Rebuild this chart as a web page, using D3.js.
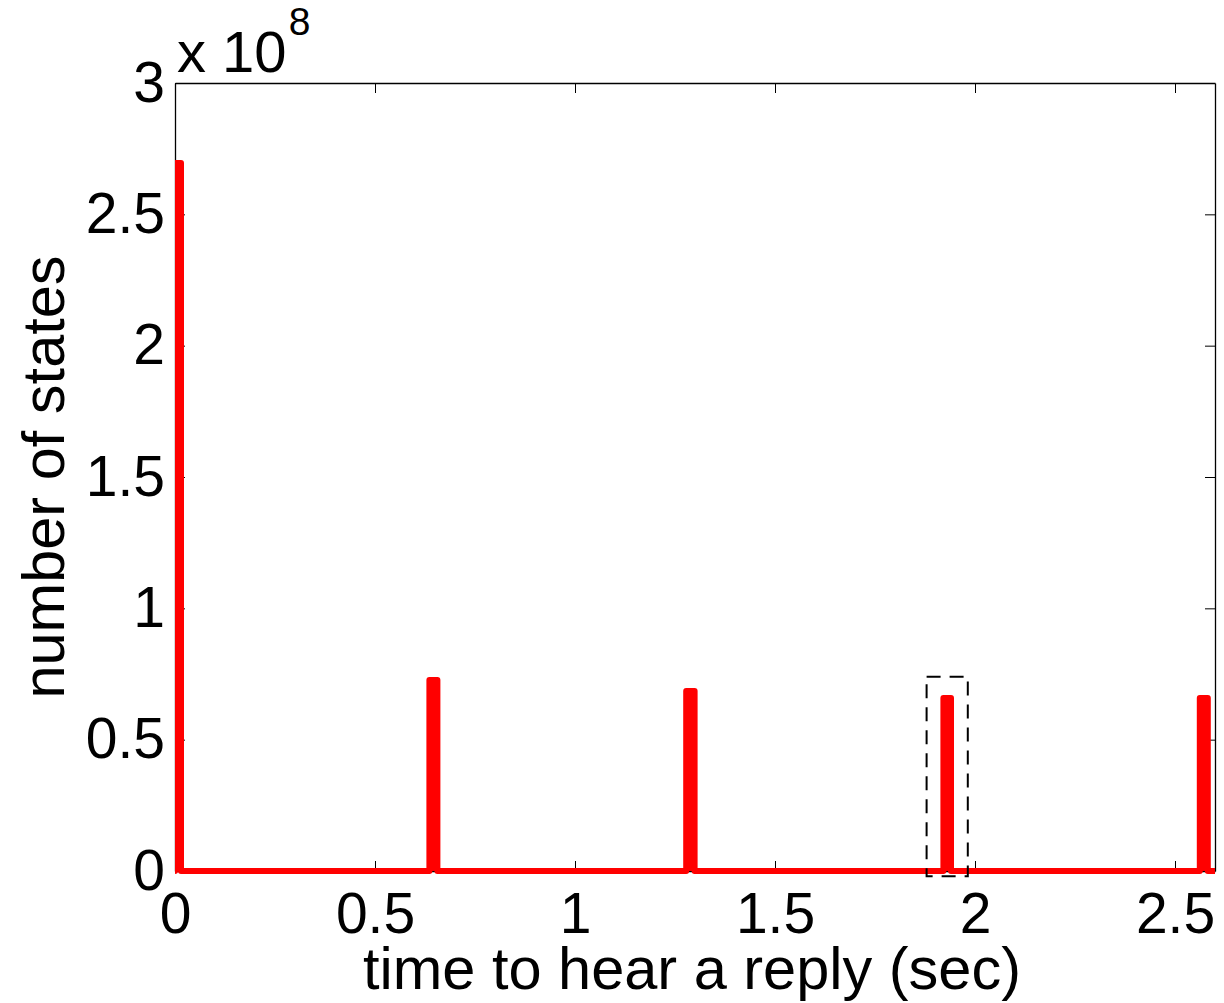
<!DOCTYPE html>
<html>
<head>
<meta charset="utf-8">
<script src="https://cdn.jsdelivr.net/npm/d3@7"></script>
<style>
  body { margin: 0; background: #fff; }
  text { font-family: "Liberation Sans", Arial, Helvetica, sans-serif; fill: #000; }
</style>
</head>
<body>
<svg width="1224" height="1003"></svg>
<script>
// spikes in the "time to hear a reply" distribution (sec, number of states)
const spikeStart = [0, 0.636, 1.278, 1.921, 2.562];
const spikeEnd = [0.015, 0.656, 1.299, 1.94, 2.582];
const spikeValue = [2.695e8, 0.727e8, 0.685e8, 0.659e8, 0.659e8];
const timeEnd = 2.6;

const xTicks = [0, 0.5, 1, 1.5, 2, 2.5];
const yTicks = [0, 0.5e8, 1e8, 1.5e8, 2e8, 2.5e8, 3e8];

// dashed highlight box (data coords)
const boxX = [1.879, 1.982];
const boxY = [-0.02e8, 0.74e8];

const svg = d3.select("svg");
const plotLeft = 175, plotRight = 1215, plotTop = 83, plotBottom = 871;

const xs = d3.scaleLinear().domain([0, timeEnd]).range([plotLeft, plotRight]);
const ys = d3.scaleLinear().domain([0, 3e8]).range([plotBottom, plotTop]);

const fmtY = d => d3.format("~g")(d / 1e8);

// axes, ticks pointing inward (matlab style)
svg.append("g").attr("transform", `translate(0,${plotBottom})`)
  .call(d3.axisBottom(xs).tickValues(xTicks).tickSizeInner(-10).tickSizeOuter(0).tickPadding(22).tickFormat(d3.format("~g")));
svg.append("g").attr("transform", `translate(0,${plotTop})`)
  .call(d3.axisTop(xs).tickValues(xTicks).tickSizeInner(-10).tickSizeOuter(0).tickFormat(""));
svg.append("g").attr("transform", `translate(${plotLeft},0)`)
  .call(d3.axisLeft(ys).tickValues(yTicks).tickSizeInner(-10).tickSizeOuter(0).tickPadding(10).tickFormat(fmtY));
svg.append("g").attr("transform", `translate(${plotRight},0)`)
  .call(d3.axisRight(ys).tickValues(yTicks).tickSizeInner(-10).tickSizeOuter(0).tickFormat(""));

svg.selectAll(".domain").attr("stroke", "#000").attr("stroke-width", 1.3);
svg.selectAll(".tick line").attr("stroke", "#000").attr("stroke-width", 1);
svg.selectAll(".tick text").attr("font-size", 57).attr("fill", "#000");

// red line
svg.append("clipPath").attr("id", "clip")
  .append("rect").attr("x", plotLeft).attr("y", 0).attr("width", plotRight - plotLeft).attr("height", 1003);

const pts = [[0, 0]];
spikeStart.forEach((s, i) => {
  pts.push([s, 0], [s, spikeValue[i]], [spikeEnd[i], spikeValue[i]], [spikeEnd[i], 0]);
});
pts.push([timeEnd, 0]);

const line = d3.line().x(d => xs(d[0])).y(d => ys(d[1]));

// fill closes along the baseline, so only the spikes get filled
svg.append("path")
  .datum(pts)
  .attr("clip-path", "url(#clip)")
  .attr("fill", "#ff0000")
  .attr("stroke", "#ff0000")
  .attr("stroke-width", 6)
  .attr("stroke-linejoin", "round")
  .attr("stroke-linecap", "round")
  .attr("d", line);

// dashed box
svg.append("rect")
  .attr("x", xs(boxX[0]))
  .attr("y", ys(boxY[1]))
  .attr("width", xs(boxX[1]) - xs(boxX[0]))
  .attr("height", ys(boxY[0]) - ys(boxY[1]))
  .attr("fill", "none")
  .attr("stroke", "#000")
  .attr("stroke-width", 2)
  .attr("stroke-dasharray", "14,9");

// exponent label
const ex = svg.append("text").attr("x", 177).attr("y", 72).attr("font-size", 58);
ex.append("tspan").text("x 10");
ex.append("tspan").attr("font-size", 39).attr("dy", -37).attr("dx", 2).text("8");

// axis titles
svg.append("text")
  .attr("x", (plotLeft + plotRight) / 2 - 3)
  .attr("y", 989)
  .attr("text-anchor", "middle")
  .attr("font-size", 59.5)
  .text("time to hear a reply (sec)");

svg.append("text")
  .attr("transform", `translate(64,${(plotTop + plotBottom) / 2}) rotate(-90)`)
  .attr("text-anchor", "middle")
  .attr("font-size", 59.5)
  .text("number of states");
</script>
</body>
</html>
